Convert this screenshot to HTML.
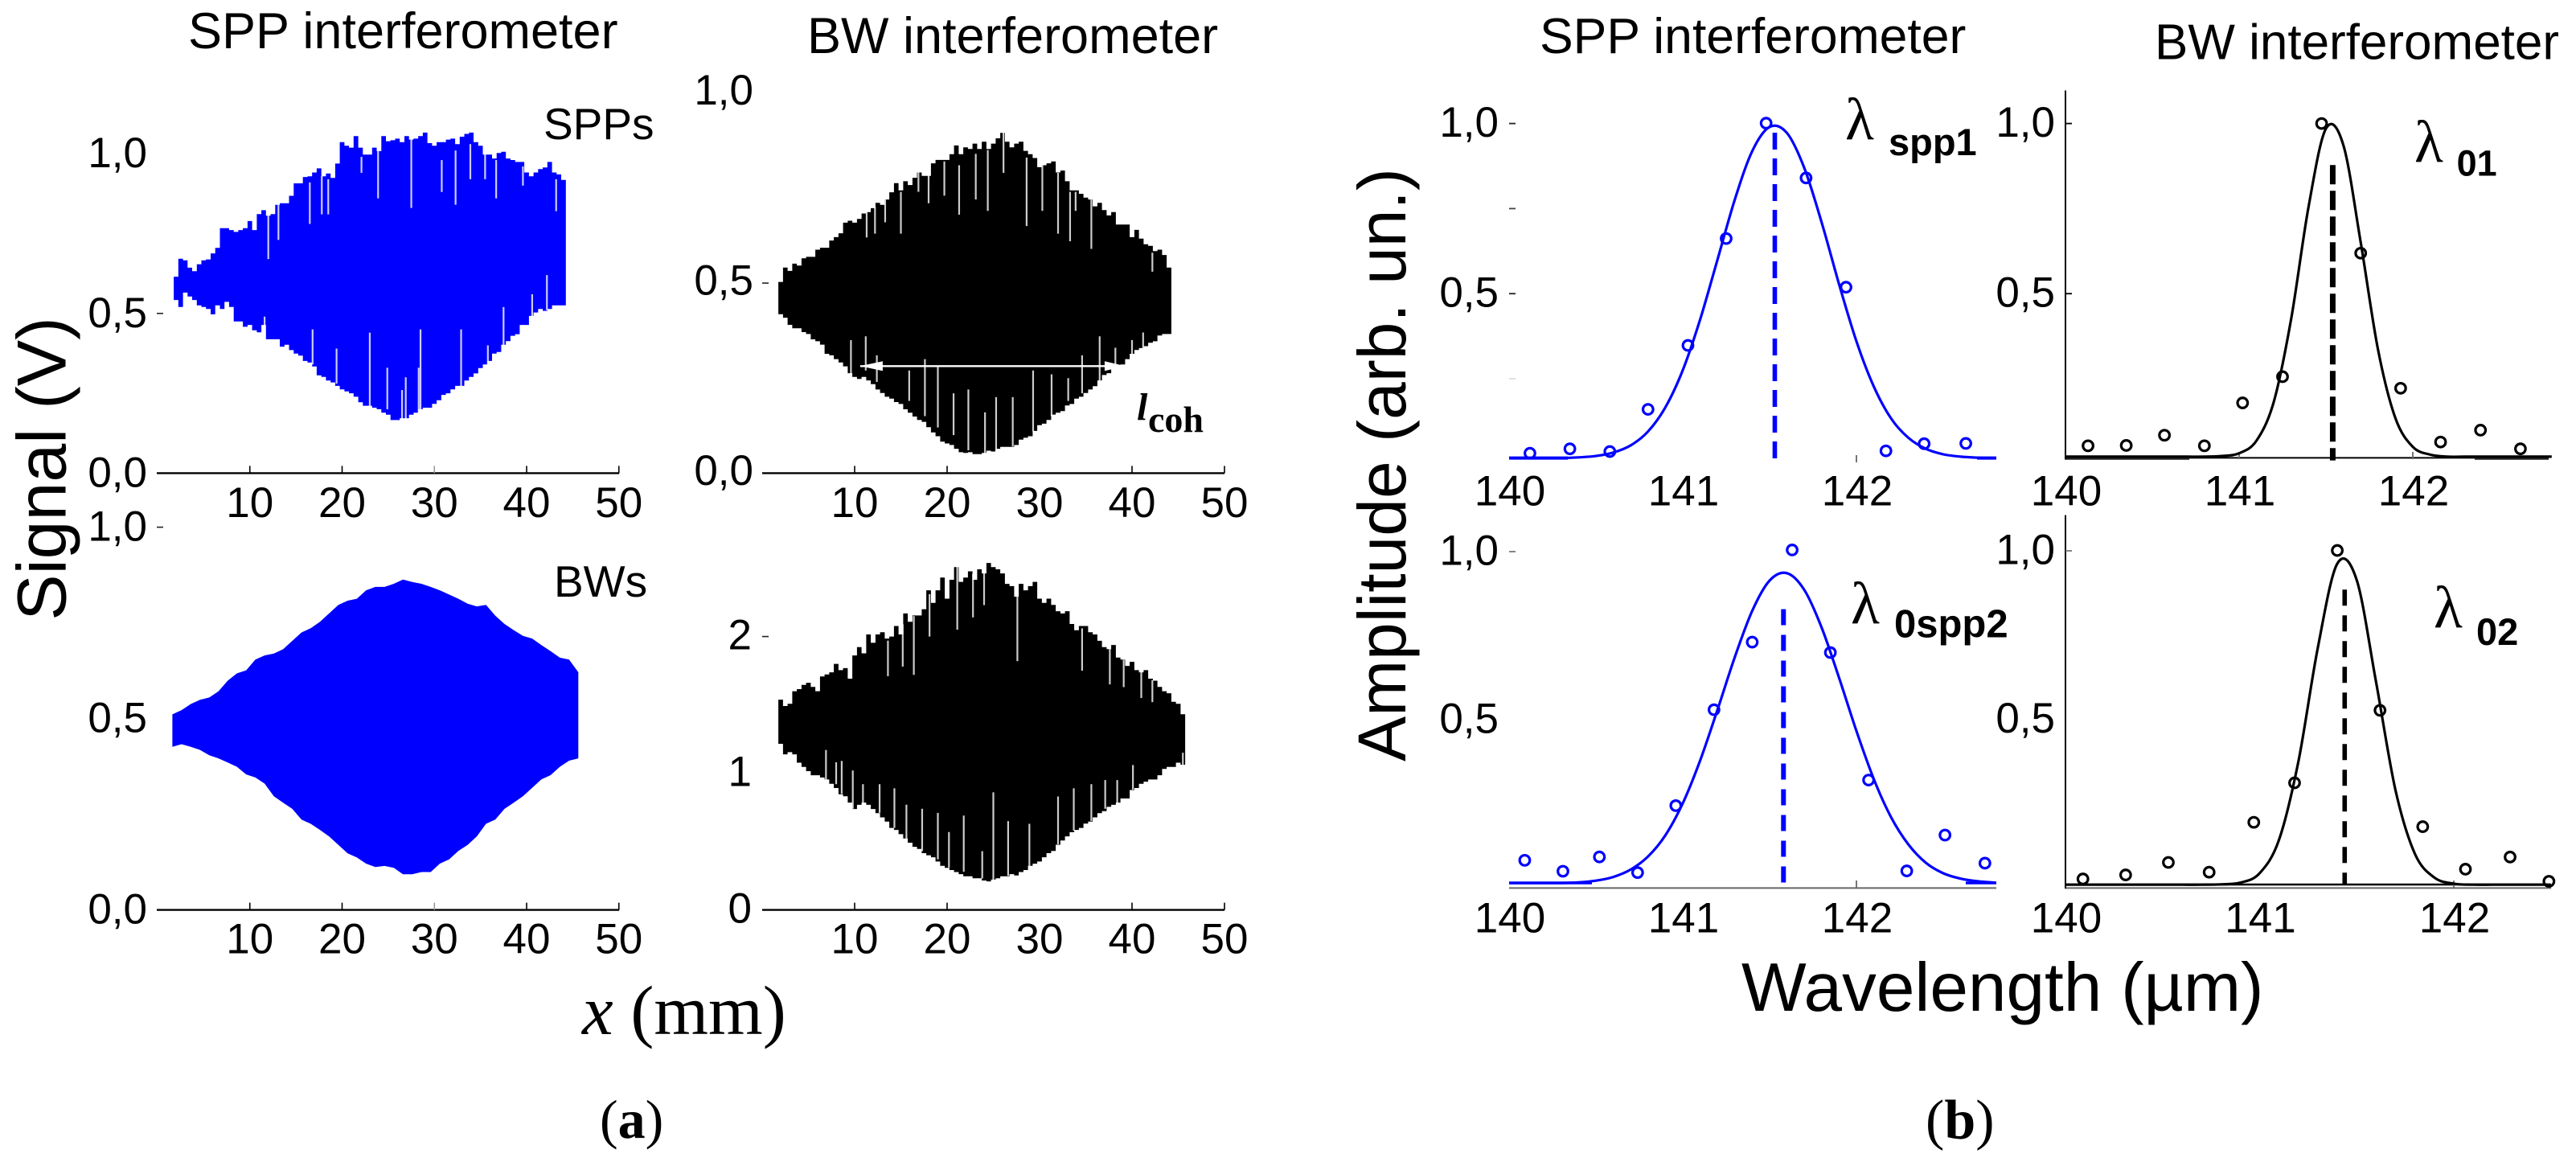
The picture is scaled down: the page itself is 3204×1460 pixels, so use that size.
<!DOCTYPE html>
<html lang="en">
<head>
<meta charset="utf-8">
<title>SPP and BW interferometer signals</title>
<style>
html,body{margin:0;padding:0;background:#fff}
svg{display:block}
text{font-family:"Liberation Sans",sans-serif;fill:#000}
.serif{font-family:"Liberation Serif",serif}
.bold{font-weight:bold}
</style>
</head>
<body>
<svg id="figure" xmlns="http://www.w3.org/2000/svg" width="3204" height="1460" viewBox="0 0 3204 1460">
<rect x="0" y="0" width="3204" height="1460" fill="#fff"/>
<g id="marks"></g>

<text x="234" y="60" font-size="63">SPP interferometer</text>
<text x="1004" y="66" font-size="63">BW interferometer</text>
<text x="1915" y="66" font-size="62.5">SPP interferometer</text>
<text x="2680" y="73.6" font-size="62">BW interferometer</text>

<text x="676" y="173" font-size="55">SPPs</text>
<text x="689" y="742" font-size="55">BWs</text>

<text transform="translate(81.6,583) rotate(-90)" text-anchor="middle" font-size="86">Signal (V)</text>
<text transform="translate(1748,578) rotate(-90)" text-anchor="middle" font-size="84">Amplitude (arb. un.)</text>
<text x="2166" y="1257" font-size="85.5">Wavelength (µm)</text>
<text class="serif" x="724" y="1286" font-size="87"><tspan font-style="italic">x</tspan> (mm)</text>

<text class="serif" x="746" y="1415" font-size="68">(<tspan class="bold" font-weight="bold">a</tspan>)</text>
<text class="serif" x="2395" y="1416" font-size="70">(<tspan font-weight="bold">b</tspan>)</text>

<text class="serif" x="1414" y="522" font-size="48" font-style="italic" font-weight="bold">l</text>
<text class="serif" x="1428" y="537" font-size="46" font-weight="bold">coh</text>

<text class="serif" x="2295" y="173" font-size="74">λ</text>
<text class="bold" x="2349" y="193" font-size="47">spp1</text>
<text class="serif" x="3003" y="201" font-size="74">λ</text>
<text class="bold" x="3055.6" y="218.7" font-size="45">01</text>
<text class="serif" x="2302" y="775" font-size="74">λ</text>
<text class="bold" x="2356" y="792.7" font-size="49">0spp2</text>
<text class="serif" x="3027" y="780" font-size="74">λ</text>
<text class="bold" x="3080" y="802" font-size="47">02</text>
</svg>

<script>
// ---------- signal panels: envelope values in volts ----------
const sppSignalUpper = [.615,.671,.666,.643,.632,.654,.666,.669,.688,.705,.767,.767,.761,.755,.761,.767,.789,.761,.811,.823,.806,.811,.840,.845,.845,.868,.907,.907,.927,.929,.941,.954,.929,.938,.924,.969,1.036,1.025,1.019,1.055,1.019,.997,.997,1.019,1.008,1.055,1.039,1.042,1.047,1.036,1.055,1.044,1.047,1.055,1.066,1.033,1.025,1.036,1.036,1.044,1.047,1.030,1.053,1.062,1.066,1.036,1.025,.997,.997,.985,1.002,1.006,.985,.980,.974,.974,.941,.929,.941,.952,.957,.974,.941,.935,.918];
const sppSignalLower = [.542,.520,.565,.553,.542,.525,.520,.514,.497,.525,.514,.536,.520,.475,.475,.458,.464,.447,.441,.464,.419,.419,.419,.396,.402,.385,.374,.368,.351,.346,.334,.306,.301,.290,.284,.273,.262,.256,.250,.239,.222,.211,.211,.205,.200,.189,.183,.166,.166,.172,.172,.183,.189,.200,.205,.205,.217,.228,.245,.250,.262,.273,.273,.290,.301,.312,.329,.340,.351,.374,.379,.402,.413,.430,.435,.464,.464,.492,.503,.514,.508,.514,.525,.525,.525];

const bwTopSignalUpper = [.503,.541,.532,.551,.546,.565,.569,.569,.588,.593,.593,.612,.621,.631,.659,.664,.659,.669,.683,.687,.697,.711,.706,.720,.739,.763,.744,.768,.758,.777,.791,.782,.782,.815,.824,.824,.824,.839,.862,.839,.857,.853,.867,.853,.872,.853,.867,.881,.895,.872,.857,.867,.872,.848,.839,.829,.805,.810,.815,.820,.791,.796,.768,.744,.744,.735,.725,.720,.702,.711,.692,.678,.687,.654,.654,.654,.621,.640,.617,.602,.598,.584,.588,.574,.541];
const bwTopSignalLower = [.418,.409,.390,.381,.381,.371,.366,.352,.347,.338,.314,.310,.300,.291,.281,.263,.253,.248,.253,.244,.234,.220,.211,.201,.196,.187,.182,.168,.159,.149,.140,.135,.121,.107,.097,.083,.078,.074,.064,.055,.053,.055,.050,.050,.053,.059,.057,.064,.069,.069,.069,.074,.088,.093,.097,.111,.126,.130,.140,.154,.159,.163,.178,.182,.196,.201,.211,.220,.229,.244,.258,.263,.277,.281,.286,.300,.314,.324,.329,.334,.343,.347,.362,.366,.366];

const bwsSignalUpper = [.511,.522,.538,.549,.555,.571,.599,.618,.626,.654,.665,.670,.681,.703,.725,.736,.753,.775,.797,.808,.813,.835,.844,.844,.852,.863,.857,.852,.844,.835,.824,.813,.800,.793,.797,.769,.747,.731,.716,.709,.692,.676,.659,.654,.621];
const bwsSignalLower = [.426,.433,.426,.418,.404,.396,.385,.374,.354,.346,.330,.297,.280,.264,.236,.225,.209,.192,.170,.148,.137,.121,.112,.115,.110,.093,.093,.099,.099,.121,.132,.154,.170,.192,.225,.236,.264,.280,.297,.319,.341,.352,.374,.390,.396];

const bwBottomSignalUpper = [1.538,1.492,1.508,1.600,1.615,1.646,1.662,1.631,1.600,1.708,1.723,1.738,1.800,1.754,1.769,1.692,1.862,1.923,1.877,2.015,1.954,2.015,2.031,1.985,2.000,2.077,2.015,2.169,2.108,2.154,2.154,2.200,2.338,2.246,2.338,2.431,2.277,2.415,2.508,2.400,2.431,2.477,2.415,2.492,2.462,2.538,2.508,2.492,2.462,2.385,2.369,2.292,2.385,2.338,2.369,2.400,2.277,2.246,2.277,2.231,2.185,2.169,2.185,2.092,2.046,2.077,2.077,2.031,2.015,1.969,1.923,1.908,1.938,1.846,1.831,1.785,1.815,1.754,1.738,1.754,1.692,1.677,1.631,1.600,1.585,1.523,1.508,1.431];
const bwBottomSignalLower = [1.215,1.138,1.154,1.138,1.077,1.046,1.015,.985,.985,.969,.954,.923,.892,.846,.831,.785,.738,.769,.785,.769,.738,.708,.677,.646,.600,.585,.554,.523,.492,.462,.446,.415,.400,.385,.354,.323,.308,.292,.277,.262,.246,.246,.231,.231,.215,.209,.222,.231,.246,.246,.262,.252,.277,.292,.323,.338,.354,.385,.415,.431,.477,.508,.538,.569,.585,.600,.631,.646,.677,.708,.723,.754,.769,.785,.815,.815,.877,.892,.923,.938,.954,.954,.985,1.031,1.046,1.046,1.077,1.062];

// ---------- dropped samples in the signal traces (position mm, from V, to V) ----------
const sppGapMm = [12,18.5,17.8,23.9,27.5,30.8,33.9,36.7,39.6,43.2,23,28.5,32.9,37.5,40.6,42.2,28.3,26.9,26.5,35.8,24.9,19.4,16.8,11.6,13.1,16.5,22.1,32.3,35.5];
const sppGapFrom = [.67,.81,.81,.86,.83,.88,.92,.86,.90,.82,.21,.17,.27,.36,.44,.51,.17,.17,.16,.32,.20,.28,.34,.42,.73,.78,.94,.84,.92];
const sppGapTo = [.83,.92,.93,1.02,1.05,.98,1.03,.98,.96,.92,.44,.45,.45,.52,.56,.62,.33,.30,.26,.40,.33,.39,.45,.49,.84,.91,.99,1.01,1.04];

const bwTopGapMm = [13.3,15,19.7,21.3,23.1,24.4,26.1,28.6,30.3,33.3,35.6,42.2,9.6,11.2,12.4,15.9,17.6,19,20.7,22.3,24.1,25.3,27.1,29.3,31.3,33.1,34.6,36.5,38.2,40,41.2,11.3,12.2,16.9,18,32,33.9];
const bwTopGapFrom = [.66,.63,.73,.68,.72,.69,.79,.65,.69,.61,.59,.53,.26,.27,.24,.19,.15,.12,.10,.06,.05,.05,.07,.11,.15,.19,.21,.24,.27,.31,.31,.62,.63,.74,.71,.63,.69];
const bwTopGapTo = [.72,.74,.82,.81,.84,.85,.90,.83,.82,.74,.72,.58,.35,.36,.31,.27,.30,.28,.21,.22,.16,.20,.20,.27,.26,.25,.31,.36,.33,.35,.37,.69,.70,.81,.79,.79,.74];

const bwBottomGapMm = [13.6,15.2,16.4,18.1,21.1,22.8,24,27.6,34.6,37.6,39.1,41,42.2,6.9,8,8.6,9.8,10.9,12.7,14.3,15.6,17.3,19,20.2,21.8,23.8,25,26.6,28.9,32,33.7,35.6,37.1,38.4,40.1,45.5];
const bwBottomGapFrom = [1.71,1.78,1.72,2.0,2.05,2.14,2.23,1.82,1.75,1.65,1.63,1.55,1.52,.92,.92,.85,.74,.77,.71,.60,.52,.43,.37,.31,.28,.23,.22,.25,.32,.48,.58,.65,.74,.77,.88,1.06];
const bwBottomGapTo = [1.97,2.09,2.15,2.31,2.51,2.46,2.49,2.34,2.06,1.91,1.83,1.74,1.68,1.17,1.08,1.09,1.02,.92,.92,.89,.77,.74,.71,.57,.69,.43,.86,.65,.63,.83,.89,.92,.95,.95,1.06,1.15];

// ---------- spectrum panels: fitted curves and measured points ----------
const curveWavelengths = [140,140.1,140.2,140.3,140.4,140.5,140.6,140.7,140.8,140.9,141,141.1,141.2,141.3,141.4,141.5,141.6,141.7,141.8,141.9,142,142.1,142.2,142.3,142.4,142.5,142.6,142.7,142.8];
const spp1Curve = [.017,.017,.017,.017,.019,.023,.033,.054,.095,.166,.275,.424,.600,.777,.919,.990,.972,.869,.709,.528,.360,.227,.133,.076,.044,.028,.021,.018,.017];
const bw1Curve = [.021,.021,.021,.021,.021,.021,.021,.021,.021,.023,.031,.068,.183,.427,.756,.985,.937,.651,.335,.134,.050,.027,.021,.021,.021,.021,.021,.021,.021];
const spp2Curve = [.015,.015,.015,.015,.017,.022,.033,.055,.094,.157,.252,.379,.530,.687,.824,.914,.936,.886,.774,.625,.467,.324,.210,.129,.075,.044,.028,.020,.016];
const bw2Curve = [.010,.010,.010,.010,.010,.010,.010,.010,.011,.016,.044,.143,.376,.714,.962,.913,.610,.290,.101,.031,.013,.010,.010,.010,.010,.010];

const spp1PointsX = [140.12,140.35,140.58,140.80,141.03,141.25,141.48,141.71,141.94,142.17,142.39,142.63];
const spp1PointsY = [.031,.044,.036,.160,.348,.662,1.001,.840,.519,.038,.059,.060];
const bw1PointsX = [140.13,140.35,140.57,140.80,141.02,141.25,141.475,141.70,141.93,142.16,142.39,142.62];
const bw1PointsY = [.053,.054,.084,.053,.179,.256,1.0,.619,.222,.064,.099,.044];
const spp2PointsX = [140.09,140.31,140.52,140.74,140.96,141.18,141.40,141.63,141.85,142.07,142.29,142.51,142.74];
const spp2PointsY = [.0825,.05,.0925,.046,.245,.53,.731,1.005,.70,.321,.051,.1575,.074];
const bw2PointsX = [140.09,140.31,140.53,140.74,140.97,141.18,141.40,141.62,141.84,142.06,142.29,142.49];
const bw2PointsY = [.027,.039,.076,.047,.195,.312,1.001,.527,.182,.056,.092,.02];

// ---------- ticks ----------
const signalXTicks = [10,20,30,40,50];
const signalXTickLabels = ['10','20','30','40','50'];
const decimalYTicks = [0,0.5,1];
const decimalYTickLabels = ['0,0','0,5','1,0'];
const integerYTicks = [0,1,2];
const integerYTickLabels = ['0','1','2'];
const spectrumXTicks = [140,141,142];
const spectrumXTickLabels = ['140','141','142'];
const spectrumYTicks = [0.5,1];
const spectrumYTickLabels = ['0,5','1,0'];

// ---------- drawing ----------
const SVG_NS = 'http://www.w3.org/2000/svg';
const root = document.getElementById('marks');
function make(tag, parent, props) {
  const node = document.createElementNS(SVG_NS, tag);
  for (const key in props) node.setAttribute(key, props[key]);
  parent.appendChild(node);
  return node;
}
function scale(origin, perUnit) { return v => origin + perUnit * v; }
function smoothPath(pts) {
  let d = 'M' + pts[0][0].toFixed(1) + ' ' + pts[0][1].toFixed(1);
  for (let i = 0; i < pts.length - 1; i++) {
    const p0 = pts[Math.max(0, i - 1)], p1 = pts[i], p2 = pts[i + 1], p3 = pts[Math.min(pts.length - 1, i + 2)];
    const c1x = p1[0] + (p2[0] - p0[0]) / 6, c1y = p1[1] + (p2[1] - p0[1]) / 6;
    const c2x = p2[0] - (p3[0] - p1[0]) / 6, c2y = p2[1] - (p3[1] - p1[1]) / 6;
    d += 'C' + c1x.toFixed(1) + ' ' + c1y.toFixed(1) + ' ' + c2x.toFixed(1) + ' ' + c2y.toFixed(1) + ' ' + p2[0].toFixed(1) + ' ' + p2[1].toFixed(1);
  }
  return d;
}
function tracePath(cfg, x, y) {
  const half = cfg.step / 2;
  let d = '';
  if (cfg.stepped) {
    cfg.upper.forEach((v, i) => {
      const m = cfg.start + i * cfg.step;
      d += (i ? 'L' : 'M') + x(m - half).toFixed(1) + ' ' + y(v).toFixed(1) + 'L' + x(m + half).toFixed(1) + ' ' + y(v).toFixed(1);
    });
    for (let i = cfg.lower.length - 1; i >= 0; i--) {
      const m = cfg.start + i * cfg.step;
      d += 'L' + x(m + half).toFixed(1) + ' ' + y(cfg.lower[i]).toFixed(1) + 'L' + x(m - half).toFixed(1) + ' ' + y(cfg.lower[i]).toFixed(1);
    }
  } else {
    cfg.upper.forEach((v, i) => { d += (i ? 'L' : 'M') + x(cfg.start + i * cfg.step).toFixed(1) + ' ' + y(v).toFixed(1); });
    for (let i = cfg.lower.length - 1; i >= 0; i--) d += 'L' + x(cfg.start + i * cfg.step).toFixed(1) + ' ' + y(cfg.lower[i]).toFixed(1);
  }
  return d + 'Z';
}
function drawTickLabels(g, values, labels, xFn, yFn, anchor) {
  values.forEach((v, i) => {
    const t = make('text', g, {x: xFn(v), y: yFn(v), 'text-anchor': anchor, 'font-size': 53});
    
    
    t.textContent = labels[i];
  });
}
function drawLine(g, x1, y1, x2, y2, stroke, width) {
  const l = make('line', g, {x1: x1, y1: y1, x2: x2, y2: y2, stroke: stroke, 'stroke-width': width});
  
  
  return l;
}

function signalPanel(name, cfg) {
  const g = make('g', root, {});
  
  
  const x = scale(cfg.x0, cfg.xPerMm), y = scale(cfg.y0, -cfg.yPerUnit);
  const env = make('path', g, {d: tracePath(cfg, x, y), fill: cfg.color});
  
  
  (cfg.gapMm || []).forEach((mm, i) => {
    const s = make('line', g, {x1: x(mm), x2: x(mm), y1: y(cfg.gapFrom[i]), y2: y(cfg.gapTo[i]), stroke: '#fff', 'stroke-width': 2.2, 'stroke-opacity': .8});
    
    
  });
  drawLine(g, cfg.axisStart, cfg.y0, cfg.axisEnd, cfg.y0, '#000', 2.4);
  signalXTicks.forEach(t => {
    if (t === cfg.skipTick) return;
    drawLine(g, x(t), cfg.y0, x(t), cfg.y0 - 9, t === 30 ? '#999' : '#000', 1.6);
  });
  cfg.yTickMarks.forEach(v => drawLine(g, cfg.axisStart, y(v), cfg.axisStart + 8, y(v), '#222', 1.6));
  drawTickLabels(g, cfg.yTicks, cfg.yLabels, () => cfg.yLabelRight, v => y(v) + cfg.yLabelDrop, 'end');
  drawTickLabels(g, signalXTicks, signalXTickLabels, x, () => cfg.xLabelY, 'middle');
  return {g, x, y};
}

function spectrumPanel(name, cfg) {
  const g = make('g', root, {});
  
  
  const x = scale(cfg.x0, cfg.xPerUnit), wl = v => x(v - 140), y = scale(cfg.y0, -cfg.yPerUnit);
  (cfg.axisSegments || []).forEach(s => drawLine(g, s[0], s[1], s[2], s[1], s[3], s[4]));
  if (cfg.yAxis) drawLine(g, cfg.x0, cfg.yAxis[0], cfg.x0, cfg.yAxis[1], '#000', 2);
  cfg.xTickMarks.forEach(t => drawLine(g, wl(t), cfg.tickY[0], wl(t), cfg.tickY[1], '#666', 1.8));
  cfg.yTickMarks.forEach(m => drawLine(g, m[1], y(m[0]), m[1] + 8, y(m[0]), m[2], 1.8));
  const curvePts = cfg.curve.map((v, i) => [wl(curveWavelengths[i]), y(v)]);
  const c = make('path', g, {d: smoothPath(curvePts), fill: 'none', stroke: cfg.color, 'stroke-width': 3.2});
  
  
  const dash = make('line', g, {x1: wl(cfg.peak), x2: wl(cfg.peak), y1: y(cfg.dashTop), y2: y(cfg.dashBottom), stroke: cfg.color, 'stroke-width': cfg.dashWidth, 'stroke-dasharray': cfg.dashPattern});
  
  
  cfg.pointsX.forEach((px, i) => {
    const p = make('circle', g, {cx: wl(px), cy: y(cfg.pointsY[i]), r: 6.3, fill: 'none', stroke: cfg.color, 'stroke-width': 3.2});
    
    
  });
  drawTickLabels(g, spectrumYTicks, spectrumYTickLabels, () => cfg.yLabelRight, v => y(v) + 16.5, 'end');
  drawTickLabels(g, spectrumXTicks, spectrumXTickLabels, v => wl(v) + cfg.xLabelShift, () => cfg.xLabelY, 'middle');
}

signalPanel('spp-signal-top-panel', {
  x0: 196, xPerMm: 11.475, y0: 588.4, yPerUnit: 397.3, start: 2, step: .5, stepped: true, color: '#0000ff',
  upper: sppSignalUpper, lower: sppSignalLower, gapMm: sppGapMm, gapFrom: sppGapFrom, gapTo: sppGapTo,
  axisStart: 195, axisEnd: 770, yTickMarks: [.5],
  yTicks: decimalYTicks, yLabels: decimalYTickLabels, yLabelRight: 183, yLabelDrop: 17, xLabelY: 643
});
const bwTop = signalPanel('bw-signal-top-panel', {
  x0: 948, xPerMm: 11.5, y0: 588.4, yPerUnit: 472.7, start: 2, step: .5, stepped: true, color: '#000000',
  upper: bwTopSignalUpper, lower: bwTopSignalLower, gapMm: bwTopGapMm, gapFrom: bwTopGapFrom, gapTo: bwTopGapTo,
  axisStart: 948, axisEnd: 1523, skipTick: 30, yTickMarks: [.5],
  yTicks: decimalYTicks, yLabels: decimalYTickLabels, yLabelRight: 937, yLabelDrop: 14.5, xLabelY: 643
});
signalPanel('spp-signal-bottom-panel', {
  x0: 196, xPerMm: 11.475, y0: 1131.6, yPerUnit: 476, start: 1.6, step: 1, stepped: false, color: '#0000ff',
  upper: bwsSignalUpper, lower: bwsSignalLower,
  axisStart: 195, axisEnd: 770, yTickMarks: [1],
  yTicks: decimalYTicks, yLabels: decimalYTickLabels, yLabelRight: 183, yLabelDrop: 17, xLabelY: 1185.5
});
signalPanel('bw-signal-bottom-panel', {
  x0: 948, xPerMm: 11.5, y0: 1131.6, yPerUnit: 170, start: 2, step: .5, stepped: true, color: '#000000',
  upper: bwBottomSignalUpper, lower: bwBottomSignalLower, gapMm: bwBottomGapMm, gapFrom: bwBottomGapFrom, gapTo: bwBottomGapTo,
  axisStart: 948, axisEnd: 1523, skipTick: 30, yTickMarks: [2],
  yTicks: integerYTicks, yLabels: integerYTickLabels, yLabelRight: 935, yLabelDrop: 16, xLabelY: 1185.5
});

// coherence-length arrow
const cohLevel = 0.2816, cohStartMm = 10.6, cohEndMm = 39.3;
const cohY = bwTop.y(cohLevel), cohA = bwTop.x(cohStartMm), cohB = bwTop.x(cohEndMm);
const cohLine = make('line', bwTop.g, {x1: cohA, x2: cohB, y1: cohY, y2: cohY, stroke: '#fff', 'stroke-width': 2.4});


const headL = make('polygon', bwTop.g, {points: cohA + ',' + cohY + ' ' + (cohA + 28) + ',' + (cohY - 6) + ' ' + (cohA + 28) + ',' + (cohY + 6), fill: '#fff'});


const headR = make('polygon', bwTop.g, {points: cohB + ',' + cohY + ' ' + (cohB - 26) + ',' + (cohY - 6) + ' ' + (cohB - 26) + ',' + (cohY + 6), fill: '#fff'});



spectrumPanel('spp-spectrum-top-panel', {
  x0: 1877, xPerUnit: 216, y0: 576.8, yPerUnit: 423.2, color: '#0000ff', curve: spp1Curve,
  pointsX: spp1PointsX, pointsY: spp1PointsY, peak: 141.53, dashTop: .973, dashBottom: .01, dashWidth: 5.6, dashPattern: '21 11',
  axisSegments: [[1877, 569.6, 1950, '#0000ff', 4], [2459, 569.6, 2483, '#0000ff', 4]],
  xTickMarks: [142], tickY: [566, 575], yTickMarks: [[1, 1877, '#222'], [.5, 1877, '#222'], [.75, 1877, '#444'], [.25, 1877, '#ddd']],
  yLabelRight: 1864, xLabelShift: 1, xLabelY: 628.5
});
spectrumPanel('bw-spectrum-top-panel', {
  x0: 2569, xPerUnit: 216, y0: 576.8, yPerUnit: 423.2, color: '#000000', curve: bw1Curve,
  pointsX: bw1PointsX, pointsY: bw1PointsY, peak: 141.539, dashTop: .878, dashBottom: .01, dashWidth: 7, dashPattern: '24 8',
  axisSegments: [[2569, 569.8, 2723, '#222', 4], [2723, 569.4, 3078, '#000', 2], [3078, 569.8, 3170, '#222', 4]],
  yAxis: [112.5, 571.5], xTickMarks: [141, 142], tickY: [562, 571], yTickMarks: [[1, 2569, '#000'], [.5, 2569, '#000']],
  yLabelRight: 2556, xLabelShift: 1, xLabelY: 628.5
});
spectrumPanel('spp-spectrum-bottom-panel', {
  x0: 1877, xPerUnit: 216, y0: 1104.4, yPerUnit: 418.4, color: '#0000ff', curve: spp2Curve,
  pointsX: spp2PointsX, pointsY: spp2PointsY, peak: 141.58, dashTop: .829, dashBottom: .0125, dashWidth: 6, dashPattern: '20 12',
  axisSegments: [[1877, 1104.4, 2483, '#666', 2], [1877, 1098, 1980, '#0000ff', 3.5], [2445, 1098, 2483, '#0000ff', 3.5]],
  xTickMarks: [142], tickY: [1095, 1104], yTickMarks: [[1, 1877, '#777']],
  yLabelRight: 1864, xLabelShift: 1, xLabelY: 1159.3
});
spectrumPanel('bw-spectrum-bottom-panel', {
  x0: 2569, xPerUnit: 241.5, y0: 1104.4, yPerUnit: 419.4, color: '#000000', curve: bw2Curve,
  pointsX: bw2PointsX, pointsY: bw2PointsY, peak: 141.438, dashTop: .885, dashBottom: .0125, dashWidth: 5.6, dashPattern: '20 12',
  axisSegments: [[2569, 1104.4, 3173, '#666', 2], [2569, 1100, 3170, '#000', 2.4]],
  yAxis: [640.6, 1105], xTickMarks: [142], tickY: [1095, 1104], yTickMarks: [[1, 2569, '#777']],
  yLabelRight: 2556, xLabelShift: 1, xLabelY: 1159.3
});
</script>
</body>
</html>
